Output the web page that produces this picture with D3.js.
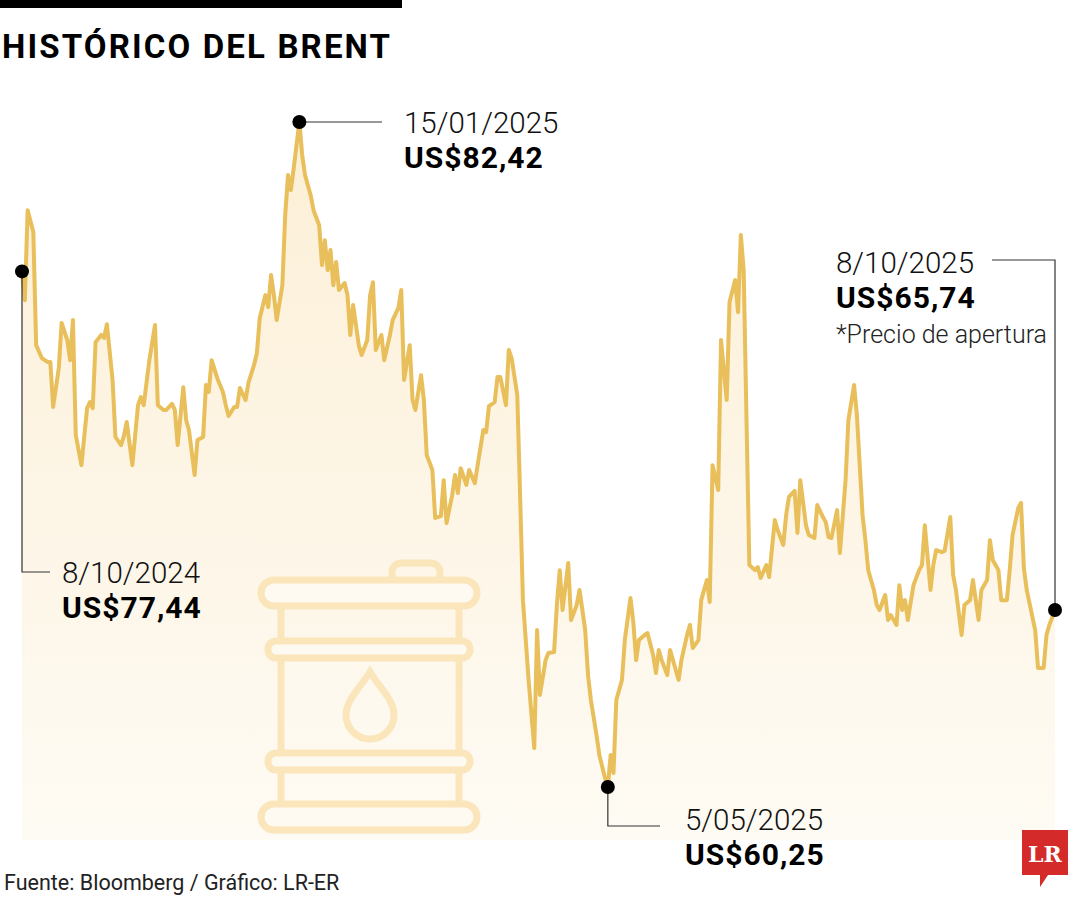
<!DOCTYPE html>
<html><head><meta charset="utf-8">
<script src="https://cdn.jsdelivr.net/npm/d3@7"></script>
<style>body{margin:0;background:#fff}svg{display:block}</style>
</head><body><svg id="c" width="1080" height="900"></svg>
<script>
// days since 8 Oct 2024
const days=[0,1,2,4,5,7,9,10,11,13,14,16,17,18,19,21,23,24,25,26,28,29,30,32,33,35,36,37,39,41,42,43,45,47,48,50,51,53,54,55,57,58,59,61,62,64,65,66,67,69,71,72,73,75,76,77,79,80,82,83,84,86,87,88,89,90,92,93,94,95,96,98,99,100,102,103,105,106,107,108,109,110,111,112,114,115,116,117,119,120,122,123,124,125,127,128,130,131,133,134,135,137,138,139,141,142,143,145,146,148,149,150,152,153,154,155,157,158,160,161,163,164,165,167,168,169,171,172,173,175,176,177,179,181,182,183,185,186,188,189,190,191,193,194,196,197,199,200,201,203,204,206,207,208,209,210,212,213,215,216,217,218,220,221,223,224,225,226,228,229,231,232,233,235,236,237,239,240,242,243,244,246,247,249,250,252,253,254,255,256,257,259,260,261,263,264,266,267,269,270,271,273,274,275,277,278,280,281,283,284,285,286,288,289,291,292,294,295,297,298,299,301,302,303,305,306,307,309,310,311,312,313,315,317,318,319,321,322,323,325,326,328,329,330,332,333,335,336,338,339,341,342,343,345,346,348,349,350,352,353,354,355,358,359,361,362,363,365];
const prices=[77.44,76.48,79.48,78.75,74.98,74.55,74.42,74.42,72.92,74.22,75.72,75.15,74.48,75.82,71.98,70.98,72.88,73.08,72.88,75.08,75.32,75.22,75.68,73.82,71.92,71.65,71.95,72.42,70.98,72.98,73.25,72.98,74.48,75.65,72.98,72.82,72.82,73.02,72.82,71.65,73.58,72.48,72.15,70.65,71.82,71.92,73.65,73.42,74.48,73.88,73.42,72.98,72.62,72.92,72.92,73.55,73.15,73.72,74.32,74.72,75.88,76.65,76.25,77.32,76.65,75.82,76.98,79.32,80.65,80.15,80.88,82.42,81.32,80.65,79.98,79.48,78.98,77.65,78.48,77.48,78.15,76.98,77.75,76.82,77.05,76.65,75.32,76.32,74.98,74.65,75.15,76.65,77.08,74.82,75.32,74.48,75.32,75.82,76.22,76.82,73.82,74.98,73.15,72.82,73.98,73.15,71.32,70.82,69.22,69.28,70.48,69.05,69.98,70.65,70.05,70.88,70.32,70.82,70.38,70.98,72.15,72.08,72.95,73.08,73.92,73.92,72.98,74.82,74.55,73.32,69.98,66.48,63.82,61.55,65.48,63.32,64.48,64.72,64.75,66.32,67.48,66.15,67.72,65.82,66.32,66.82,65.48,63.98,63.15,61.98,61.32,60.55,60.25,61.32,60.72,63.15,63.82,65.15,66.55,65.75,64.48,65.15,65.32,65.38,64.65,64.05,64.82,64.48,63.98,64.82,64.15,63.82,64.48,65.32,65.65,64.88,65.15,66.48,67.15,66.42,70.98,70.15,75.15,73.15,76.42,77.15,76.08,78.65,77.48,72.48,67.65,67.48,67.58,67.22,67.65,67.25,69.15,68.82,68.32,69.32,69.92,70.12,68.72,70.48,68.98,68.65,68.55,69.65,69.25,69.08,68.58,68.55,69.48,68.05,70.48,72.48,73.65,72.65,69.32,68.48,67.48,66.82,66.32,66.15,66.65,65.82,65.98,65.65,66.98,66.15,66.48,65.82,66.98,67.48,67.65,68.98,66.82,67.65,68.15,68.08,68.12,69.25,67.32,66.82,65.32,66.32,66.48,67.15,65.82,66.82,67.15,68.48,67.82,67.48,66.48,66.48,67.48,68.65,69.55,69.72,67.55,66.82,65.48,64.22,64.22,65.32,65.65,66.15];
const annotations=[
 {i:0,date:"8/10/2024",value:"US$77,44"},
 {i:prices.indexOf(82.42),date:"15/01/2025",value:"US$82,42"},
 {i:prices.indexOf(60.25),date:"5/05/2025",value:"US$60,25"},
 {i:prices.length-1,date:"8/10/2025",value:"US$65,74",note:"*Precio de apertura"}
];
const title="HISTÓRICO DEL BRENT", source="Fuente: Bloomberg / Gráfico: LR-ER";

const svg=d3.select("#c");
const x=d3.scaleLinear().domain([0,365]).range([22,1055]);
const y=d3.scaleLinear().domain([60.25,82.42]).range([787,122]);
const bottom=840;
const F="Roboto, 'Open Sans', sans-serif";

svg.append("rect").attr("x",0).attr("y",0).attr("width",402).attr("height",8).attr("fill","#000");
svg.append("text").attr("x",2).attr("y",58).text(title).attr("font-family",F).attr("font-weight",700).attr("font-size",33).attr("textLength",388).attr("fill","#000");

const defs=svg.append("defs");
const g=defs.append("linearGradient").attr("id","gf").attr("x1",0).attr("y1",0).attr("x2",0).attr("y2",1);
g.append("stop").attr("offset","0%").attr("stop-color","#fcefd6");
g.append("stop").attr("offset","100%").attr("stop-color","#fefbf4");

const pts=days.map((d,i)=>[d,prices[i]]);
svg.append("path").datum(pts).attr("fill","url(#gf)")
 .attr("d",d3.area().x(d=>x(d[0])).y0(bottom).y1(d=>y(d[1])));

// barrel icon
const bc="#fbe6bb", bg=svg.append("g").attr("fill","none").attr("stroke",bc).attr("stroke-width",7);
bg.append("rect").attr("x",392).attr("y",563).attr("width",48).attr("height",20).attr("rx",9);
bg.append("line").attr("x1",281).attr("x2",281).attr("y1",606).attr("y2",804);
bg.append("line").attr("x1",459).attr("x2",459).attr("y1",606).attr("y2",804);
bg.append("rect").attr("x",261).attr("y",580).attr("width",216).attr("height",26).attr("rx",13).attr("fill","#fefaf1");
bg.append("rect").attr("x",268).attr("y",641).attr("width",202).attr("height",17).attr("rx",8).attr("fill","#fefaf1");
bg.append("rect").attr("x",268).attr("y",753).attr("width",202).attr("height",17).attr("rx",8).attr("fill","#fefaf1");
bg.append("rect").attr("x",261).attr("y",804).attr("width",216).attr("height",26).attr("rx",13).attr("fill","#fefaf1");
bg.append("path").attr("d","M370,672 C360,688 346,700 346,715 A24,24 0 0 0 394,715 C394,700 380,688 370,672 Z");

svg.append("path").datum(pts).attr("fill","none").attr("stroke","#e8bf5a").attr("stroke-width",4).attr("stroke-linejoin","round")
 .attr("d",d3.line().x(d=>x(d[0])).y(d=>y(d[1])));

// annotations
const P=a=>[x(days[a.i]),y(prices[a.i])];
const leaders=[
 a=>{const [px,py]=P(a);return `M${px},${py}V572H50`;},
 a=>{const [px,py]=P(a);return `M${px},${py}H382`;},
 a=>{const [px,py]=P(a);return `M${px},${py}V826H660`;},
 a=>{const [px,py]=P(a);return `M${px},${py}V260H992`;}
];
const pos=[[62,583],[404,133],[685,830],[836,273]];
annotations.forEach((a,k)=>{
 svg.append("path").attr("d",leaders[k](a)).attr("fill","none").attr("stroke","#333").attr("stroke-width",1.2);
 const [px,py]=P(a);
 svg.append("circle").attr("cx",px).attr("cy",py).attr("r",7).attr("fill","#000");
 svg.append("text").attr("x",pos[k][0]).attr("y",pos[k][1]).text(a.date).attr("font-family",F).attr("font-weight",300).attr("font-size",29.5).attr("fill","#111");
 svg.append("text").attr("x",pos[k][0]).attr("y",pos[k][1]+35).text(a.value).attr("font-family",F).attr("font-weight",700).attr("font-size",30).attr("letter-spacing",1).attr("fill","#000");
 if(a.note) svg.append("text").attr("x",pos[k][0]).attr("y",pos[k][1]+70).text(a.note).attr("font-family",F).attr("font-weight",300).attr("font-size",25).attr("fill","#222");
});

svg.append("text").attr("x",4).attr("y",890).text(source).attr("font-family",F).attr("font-size",21.5).attr("fill","#222");
// LR logo
svg.append("path").attr("d","M1022,830H1068V875H1048L1040,887V875H1022Z").attr("fill","#d42a2a");
svg.append("text").attr("x",1045).attr("y",862).attr("text-anchor","middle").text("LR").attr("font-family","'DejaVu Serif', serif").attr("font-weight",700).attr("font-size",22).attr("fill","#fff");
</script></body></html>
